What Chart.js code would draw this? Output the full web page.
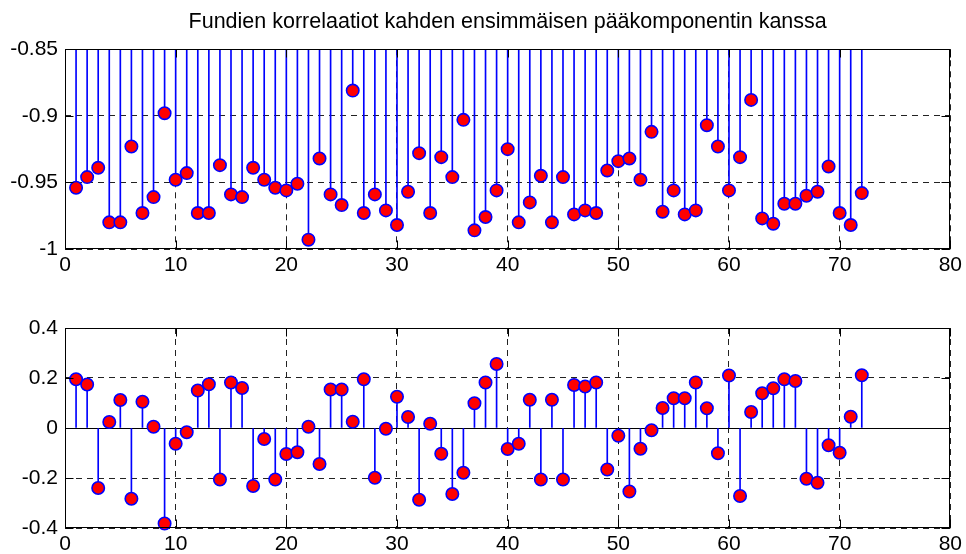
<!DOCTYPE html>
<html><head><meta charset="utf-8">
<script src="https://cdn.jsdelivr.net/npm/chart.js@4/dist/chart.umd.min.js"></script>
<style>
html,body{margin:0;padding:0;background:#fff;width:966px;height:554px;overflow:hidden}
canvas{display:block;position:absolute;left:0}
</style></head><body>
<canvas id="c1" width="966" height="290" style="top:0px"></canvas>
<canvas id="c2" width="966" height="264" style="top:290px"></canvas>
<script>
const titleText = "Fundien korrelaatiot kahden ensimmäisen pääkomponentin kanssa";
const indices = [1,2,3,4,5,6,7,8,9,10,11,12,13,14,15,16,17,18,19,20,21,22,23,24,25,26,27,28,29,30,31,32,33,34,35,36,37,38,39,40,41,42,43,44,45,46,47,48,49,50,51,52,53,54,55,56,57,58,59,60,61,62,63,64,65,66,67,68,69,70,71,72];
const firstComponent = [-0.954,-0.946,-0.939,-0.980,-0.980,-0.923,-0.973,-0.961,-0.898,-0.948,
  -0.943,-0.973,-0.973,-0.937,-0.959,-0.961,-0.939,-0.948,-0.954,-0.956,
  -0.951,-0.993,-0.932,-0.959,-0.967,-0.881,-0.973,-0.959,-0.971,-0.982,
  -0.957,-0.928,-0.973,-0.931,-0.946,-0.903,-0.986,-0.976,-0.956,-0.925,
  -0.980,-0.965,-0.945,-0.980,-0.946,-0.974,-0.971,-0.973,-0.941,-0.934,
  -0.932,-0.948,-0.912,-0.972,-0.956,-0.974,-0.971,-0.907,-0.923,-0.956,
  -0.931,-0.888,-0.977,-0.981,-0.966,-0.966,-0.960,-0.957,-0.938,-0.973,
  -0.982,-0.958];
const secondComponent = [0.195,0.174,-0.240,0.024,0.112,-0.283,0.105,0.005,-0.382,-0.063,
  -0.017,0.150,0.175,-0.206,0.182,0.160,-0.232,-0.044,-0.206,-0.104,
  -0.097,0.005,-0.144,0.154,0.154,0.025,0.195,-0.199,-0.003,0.125,
  0.044,-0.287,0.017,-0.103,-0.264,-0.179,0.099,0.182,0.256,-0.084,
  -0.063,0.113,-0.206,0.113,-0.206,0.172,0.166,0.182,-0.166,-0.031,
  -0.254,-0.083,-0.009,0.080,0.119,0.119,0.182,0.079,-0.101,0.210,
  -0.272,0.064,0.139,0.159,0.195,0.188,-0.203,-0.219,-0.069,-0.099,
  0.045,0.211];
const xTicks = [0,10,20,30,40,50,60,70,80];
const xTickLabels = ['0','10','20','30','40','50','60','70','80'];
const topYTicks = [-1,-0.95,-0.9,-0.85];
const topYLabels = ['-1','-0.95','-0.9','-0.85'];
const bottomYTicks = [-0.4,-0.2,0,0.2,0.4];
const bottomYLabels = ['-0.4','-0.2','0','0.2','0.4'];

Chart.defaults.font.family = "'Liberation Sans', Arial, sans-serif";
Chart.defaults.font.size = 21;
Chart.defaults.color = '#000';

const boxPlugin = {
  id: 'matlabBox',
  beforeDatasetsDraw(chart, args, opts) {
    if (!opts.baseline) return;
    const {ctx, chartArea: a, scales} = chart;
    const y = Math.round(scales.y.getPixelForValue(0)) + 0.5;
    ctx.save();
    ctx.strokeStyle = '#000'; ctx.lineWidth = 1;
    ctx.beginPath(); ctx.moveTo(a.left, y); ctx.lineTo(a.right, y); ctx.stroke();
    ctx.restore();
  },
  afterDraw(chart) {
    const {ctx, chartArea: a, scales} = chart;
    const L = Math.round(a.left) + 0.5, R = Math.round(a.right) - 0.5;
    const T = Math.round(a.top) + 0.5, B = Math.round(a.bottom) - 0.5;
    ctx.save();
    ctx.strokeStyle = '#000'; ctx.lineWidth = 1; ctx.setLineDash([]);
    ctx.strokeRect(L, T, R - L, B - T);
    const tl = 8;
    ctx.beginPath();
    scales.x.ticks.forEach(t => {
      const x = Math.round(scales.x.getPixelForValue(t.value)) + 0.5;
      ctx.moveTo(x, B); ctx.lineTo(x, B - tl);
      ctx.moveTo(x, T); ctx.lineTo(x, T + tl);
    });
    scales.y.ticks.forEach(t => {
      const y = Math.round(scales.y.getPixelForValue(t.value)) + 0.5;
      ctx.moveTo(L, y); ctx.lineTo(L + tl, y);
      ctx.moveTo(R, y); ctx.lineTo(R - tl, y);
    });
    ctx.stroke();
    ctx.restore();
  }
};

function makeChart(id, values, yTicks, yLabels, opt) {
  const pts = indices.map((x, i) => ({x: x, y: values[i]}));
  return new Chart(document.getElementById(id), {
    type: 'bar',
    data: {
      datasets: [
        {
          type: 'line', data: pts, showLine: false, order: 1, clip: false,
          pointRadius: 6.2, pointHoverRadius: 6.2,
          pointBackgroundColor: '#ff0000', pointBorderColor: '#0000ff', pointBorderWidth: 1.6
        },
        {
          type: 'bar', data: pts, base: 0, order: 2,
          backgroundColor: '#0000ff', borderWidth: 0, barThickness: 1, grouped: false
        }
      ]
    },
    options: {
      responsive: false, animation: false, events: [],
      layout: {padding: {left: 0, right: 12, top: opt.padTop, bottom: 0}},
      plugins: {
        legend: {display: false}, tooltip: {enabled: false},
        title: opt.title ? {display: true, fullSize: false, text: opt.title, color: '#000',
          font: {size: 21.5, weight: 'normal'}, padding: {top: 9, bottom: 14.5}} : {display: false},
        matlabBox: {baseline: opt.baseline}
      },
      scales: {
        x: {
          type: 'linear', min: 0, max: 80, offset: false,
          afterBuildTicks: s => { s.ticks = xTicks.map(v => ({value: v})); },
          afterFit: s => { s.height = opt.xHeight; },
          ticks: {padding: 4, autoSkip: false, maxRotation: 0,
            callback: (v, i) => xTickLabels[i]},
          grid: {offset: false, drawTicks: false, color: '#222', lineWidth: 1},
          border: {display: false, dash: [6, 5]}
        },
        y: {
          type: 'linear', min: yTicks[0], max: yTicks[yTicks.length - 1],
          afterBuildTicks: s => { s.ticks = yTicks.map(v => ({value: v})); },
          afterFit: s => { s.width = 65; },
          ticks: {padding: 7, callback: (v, i) => yLabels[i]},
          grid: {drawTicks: false, color: '#222', lineWidth: 1},
          border: {display: false, dash: [6, 5]}
        }
      }
    },
    plugins: [boxPlugin]
  });
}

makeChart('c1', firstComponent, topYTicks, topYLabels,
  {title: titleText, padTop: 0, xHeight: 41, baseline: false});
makeChart('c2', secondComponent, bottomYTicks, bottomYLabels,
  {title: null, padTop: 38, xHeight: 26, baseline: true});
</script>
</body></html>
